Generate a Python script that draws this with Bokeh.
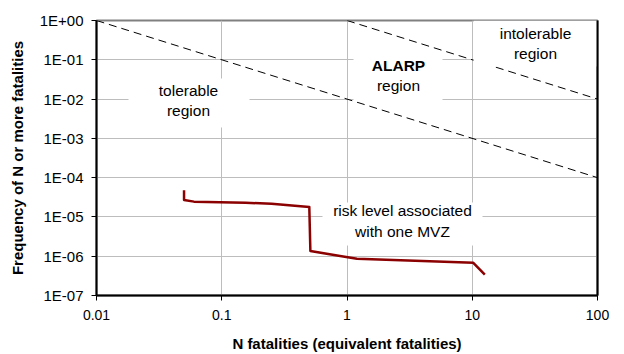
from bokeh.plotting import figure
from bokeh.models import FixedTicker, Label, LogAxis, Range1d
from bokeh.embed import file_html
from bokeh.resources import INLINE

# F-N curve for one MVZ: number of fatalities N vs frequency of N or more fatalities
fn_n = [0.05, 0.05, 0.06, 0.155, 0.25, 0.5, 0.51, 1.2, 10.2, 12.6]
fn_freq = [4.8e-5, 2.7e-5, 2.45e-5, 2.3e-5, 2.15e-5, 1.8e-5, 1.35e-6, 8.6e-7, 6.8e-7, 3.4e-7]

# Criterion lines bounding the ALARP region
upper_n = [1, 100]
upper_freq = [1, 0.01]
lower_n = [0.01, 100]
lower_freq = [1, 1e-4]

x_ticks = [0.01, 0.1, 1, 10, 100]
x_tick_labels = ["0.01", "0.1", "1", "10", "100"]
y_ticks = [1e-7, 1e-6, 1e-5, 1e-4, 1e-3, 1e-2, 1e-1, 1]
y_tick_labels = ["1E-07", "1E-06", "1E-05", "1E-04", "1E-03", "1E-02", "1E-01", "1E+00"]

FONT = "Liberation Sans"

p = figure(
    width=624, height=354,
    x_axis_type="log", y_axis_type="log",
    x_range=Range1d(0.01, 100), y_range=Range1d(1e-7, 1),
    output_backend="svg", toolbar_location=None,
    min_border_left=96, min_border_right=27, min_border_top=20, min_border_bottom=59,
)
p.background_fill_color = "white"
p.border_fill_color = "white"
p.outline_line_color = "#808080"
p.outline_line_width = 2

p.xaxis.ticker = FixedTicker(ticks=x_ticks)
p.yaxis.ticker = FixedTicker(ticks=y_ticks)
p.xaxis.major_label_overrides = {t: s for t, s in zip(x_ticks, x_tick_labels)}
p.yaxis.major_label_overrides = {t: s for t, s in zip(y_ticks, y_tick_labels)}

for ax in (p.xaxis[0], p.yaxis[0]):
    ax.axis_line_color = "black"
    ax.axis_line_width = 2
    ax.major_tick_line_color = "black"
    ax.major_tick_in = 0
    ax.major_tick_out = 5
    ax.minor_tick_line_color = None
    ax.major_label_text_font = FONT
    ax.major_label_text_color = "black"
    ax.axis_label_text_font = FONT
    ax.axis_label_text_font_size = "15px"
    ax.axis_label_text_font_style = "bold"
    ax.axis_label_text_color = "black"

p.xaxis.major_label_text_font_size = "14px"
p.yaxis.major_label_text_font_size = "15px"
p.xaxis.axis_label = "N fatalities (equivalent fatalities)"
p.yaxis.axis_label = "Frequency of N or more fatalities"
p.xaxis.major_label_standoff = 9
p.xaxis.axis_label_standoff = 12
p.yaxis.major_label_standoff = 8
p.yaxis.axis_label_standoff = 11

# black right-hand frame edge
right_axis = LogAxis(ticker=FixedTicker(ticks=[]), axis_line_color="black", axis_line_width=2,
                     major_tick_line_color=None, minor_tick_line_color=None,
                     major_label_text_font_size="0px")
p.add_layout(right_axis, "right")

p.xgrid.ticker = FixedTicker(ticks=x_ticks)
p.ygrid.ticker = FixedTicker(ticks=y_ticks)
p.grid.grid_line_color = "#bdbdbd"
p.grid.grid_line_width = 1

# criterion lines
p.line(upper_n, upper_freq, line_color="black", line_width=1, line_dash="8 5")
p.line(lower_n, lower_freq, line_color="black", line_width=1, line_dash="8 5")

# white boxes behind the region labels
box_x = [10 ** -1.2615, 10 ** 0.4072, 10 ** 1.505, 10 ** 0.4431]
box_y = [10 ** -2.0998, 10 ** -1.4508, 10 ** -0.5854, 10 ** -5.1794]
box_w = [121, 89, 124, 160]
box_h = [49, 48, 46, 43]
p.rect(box_x, box_y, width=box_w, height=box_h, width_units="screen", height_units="screen",
       fill_color="white", line_color=None)

# F-N curve
p.line(fn_n, fn_freq, line_color="#8b0000", line_width=2.5, line_join="round")


def add_label(x, y, text, bold=False):
    p.add_layout(Label(x=x, y=y, text=text, text_align="center", text_baseline="middle",
                       text_font=FONT, text_font_size="15.5px",
                       text_font_style="bold" if bold else "normal", text_color="black"))


add_label(10 ** -1.2655, 10 ** -1.7816, "tolerable")
add_label(10 ** -1.2655, 10 ** -2.2906, "region")
add_label(10 ** 0.4112, 10 ** -1.1453, "ALARP", bold=True)
add_label(10 ** 0.4112, 10 ** -1.6544, "region")
add_label(10 ** 1.505, 10 ** -0.3309, "intolerable")
add_label(10 ** 1.505, 10 ** -0.8399, "region")
add_label(10 ** 0.4431, 10 ** -4.8358, "risk level associated")
add_label(10 ** 0.4431, 10 ** -5.3703, "with one MVZ")

open("out.html", "w").write(file_html(p, INLINE))
